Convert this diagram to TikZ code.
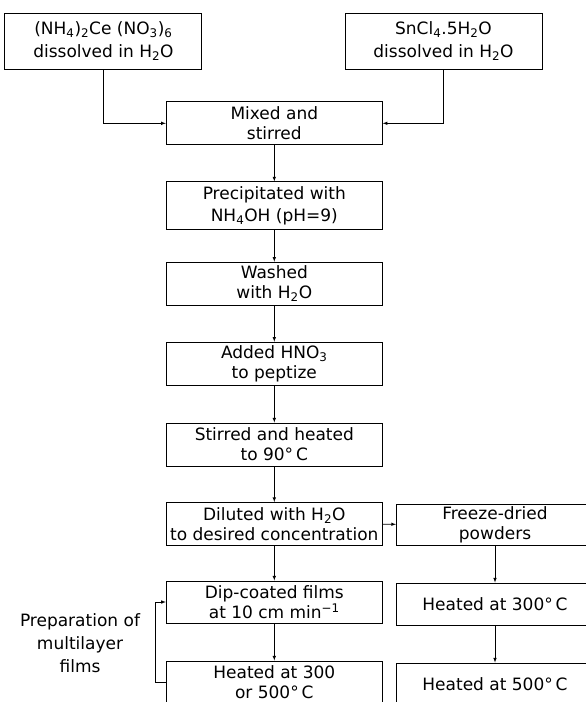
\documentclass[tikz,border=0pt]{standalone}
\usepackage{fontspec}
\setmainfont{DejaVu Sans}
\usetikzlibrary{arrows, positioning, calc}

\begin{document}
\begin{tikzpicture}[x=1pt,y=-1pt,
  stage/.style={draw,rectangle,line width=1pt,align=center,minimum width=216pt,minimum height=43pt,inner sep=1pt,font=\fontsize{17}{20}\selectfont},
  feed/.style={stage,minimum width=197pt,minimum height=56pt},
  side/.style={stage,minimum width=197pt},
  flow/.style={-latex,line width=0.6pt}]
\useasboundingbox (0,0) rectangle (586,702);

\node[feed] (ce) at (103.4,41.2) {(NH\textsubscript{4})\textsubscript{2}Ce (NO\textsubscript{3})\textsubscript{6}\\[3pt]dissolved in H\textsubscript{2}O};
\node[feed] (sn) at (443.5,41.2) {SnCl\textsubscript{4}.5H\textsubscript{2}O\\[3pt]dissolved in H\textsubscript{2}O};
\node[stage] (mix) at (274.3,123.3) {Mixed and\\stirred};
\node[stage,minimum height=48pt] (precip) at (274.3,205.9) {Precipitated with\\[2pt]NH\textsubscript{4}OH (pH=9)};
\node[stage] (wash) at (274.3,283.7) {Washed\\with H\textsubscript{2}O};
\node[stage] (acid) at (274.3,363.7) {Added HNO\textsubscript{3}\\to peptize};
\node[stage] (heat90) at (274.3,444.5) {Stirred and heated\\to 90°\,C};
\node[stage] (dilute) at (274.3,524) {Diluted with H\textsubscript{2}O\\to desired concentration};
\node[stage,minimum height=42pt] (dip) at (274.3,602) {Dip-coated films\\at 10 cm min\textsuperscript{−1}};
\node[stage,minimum height=42pt] (heatF) at (274.3,682) {Heated at 300\\or 500°\,C};

\node[side,minimum height=41pt] (freeze) at (495,524.5) {Freeze-dried\\powders};
\node[side,minimum height=42pt] (heat3) at (495,604) {Heated at 300°\,C};
\node[side,minimum height=42pt] (heat5) at (495,684) {Heated at 500°\,C};

\node[align=center,font=\fontsize{17}{23}\selectfont] (multi) at (80,643) {Preparation of\\multilayer\\films};

\draw[flow] (ce.south) |- (mix.west);
\draw[flow] (sn.south) |- (mix.east);

\draw[flow] (mix) to (precip);
\draw[flow] (precip) to (wash);
\draw[flow] (wash) to (acid);
\draw[flow] (acid) to (heat90);
\draw[flow] (heat90) to (dilute);
\draw[flow] (dilute) to (dip);
\draw[flow] (dip) to (heatF);

\draw[flow] (dilute) to (freeze);
\draw[flow] (freeze) to (heat3);
\draw[flow] (heat3) to (heat5);

\draw[flow] (heatF.west) -- ++(-11,0) |- (dip.west);
\end{tikzpicture}
\end{document}
